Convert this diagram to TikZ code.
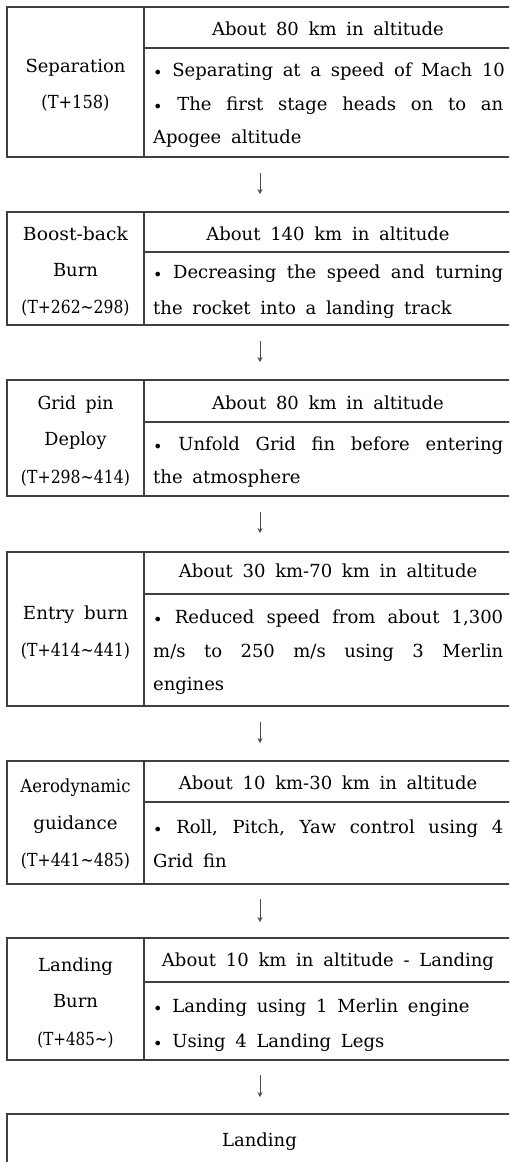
\documentclass[tikz,border=0pt]{standalone}
\usepackage{fontspec}
\usepackage{graphicx}
\setmainfont{DejaVu Serif}[WordSpace=1.7]
\usetikzlibrary{arrows.meta}
\tikzset{
  cell/.style={draw=black!75, line width=1.6pt, inner sep=0pt, outer sep=0pt, anchor=north west},
  txt/.style={inner sep=0pt, font=\fontsize{18}{18}\selectfont, text=black},
  ln/.style={txt, anchor=base west},
  hd/.style={txt, anchor=base},
  lc/.style={txt, anchor=base},
  flow/.style={draw=black!70, line width=0.9pt, -{Stealth[length=5pt,width=5pt]}}
}
\newcommand\bul{\raisebox{-0.12em}{\fontsize{16}{16}\selectfont\textbullet}}
\newcommand\jl[1]{\makebox[350pt][s]{#1}}
\newcommand\fw[2]{\resizebox{#1pt}{\height}{#2}}
\begin{document}
\begin{tikzpicture}[x=1pt,y=-1pt]
\useasboundingbox (0,0) rectangle (509,1162);
\clip (0,0) rectangle (509,1162);
% Box 1
\node[cell, minimum width=137pt, minimum height=150pt] (b1l) at (7,7) {};
\node[cell, minimum width=380pt, minimum height=41pt] (b1h) at (144,7) {};
\node[cell, minimum width=380pt, minimum height=109pt] (b1b) at (144,48) {};
\node[lc] (t1l1) at (75.5,72) {\fw{100}{Separation}};
\node[lc] (t1l2) at (75.5,108) {\fw{68}{(T+158)}};
\node[hd] (t1h) at (328,35) {About 80 km in altitude};
\node[ln] (t1b1) at (153,76) {\bul{} Separating at a speed of Mach 10};
\node[ln] (t1b2) at (153,110) {\jl{\bul{} The first stage heads on to an}};
\node[ln] (t1b3) at (153,143) {Apogee altitude};
% Box 2
\node[cell, minimum width=137pt, minimum height=113pt] (b2l) at (7,212) {};
\node[cell, minimum width=380pt, minimum height=40pt] (b2h) at (144,212) {};
\node[cell, minimum width=380pt, minimum height=73pt] (b2b) at (144,252) {};
\node[lc] (t2l1) at (75.5,240) {\fw{105}{Boost-back}};
\node[lc] (t2l2) at (75.5,276) {\fw{45}{Burn}};
\node[lc] (t2l3) at (75.5,313) {\fw{108}{(T+262\textasciitilde 298)}};
\node[hd] (t2h) at (328,240) {About 140 km in altitude};
\node[ln] (t2b1) at (153,278) {\jl{\bul{} Decreasing the speed and turning}};
\node[ln] (t2b2) at (153,314) {the rocket into a landing track};
% Box 3
\node[cell, minimum width=137pt, minimum height=116pt] (b3l) at (7,380) {};
\node[cell, minimum width=380pt, minimum height=42pt] (b3h) at (144,380) {};
\node[cell, minimum width=380pt, minimum height=74pt] (b3b) at (144,422) {};
\node[lc] (t3l1) at (75.5,409) {\fw{76}{Grid pin}};
\node[lc] (t3l2) at (75.5,445) {\fw{62}{Deploy}};
\node[lc] (t3l3) at (75.5,483) {\fw{109}{(T+298\textasciitilde 414)}};
\node[hd] (t3h) at (328,409) {About 80 km in altitude};
\node[ln] (t3b1) at (153,450) {\jl{\bul{} Unfold Grid fin before entering}};
\node[ln] (t3b2) at (153,483) {the atmosphere};
% Box 4
\node[cell, minimum width=137pt, minimum height=154pt] (b4l) at (7,552) {};
\node[cell, minimum width=380pt, minimum height=42pt] (b4h) at (144,552) {};
\node[cell, minimum width=380pt, minimum height=112pt] (b4b) at (144,594) {};
\node[lc] (t4l1) at (75.5,619) {\fw{105}{Entry burn}};
\node[lc] (t4l2) at (75.5,656) {\fw{109}{(T+414\textasciitilde 441)}};
\node[hd] (t4h) at (328,577) {About 30 km-70 km in altitude};
\node[ln] (t4b1) at (153,623) {\jl{\bul{} Reduced speed from about 1,300}};
\node[ln] (t4b2) at (153,657) {\jl{m/s to 250 m/s using 3 Merlin}};
\node[ln] (t4b3) at (153,690) {engines};
% Box 5
\node[cell, minimum width=137pt, minimum height=123pt] (b5l) at (7,761) {};
\node[cell, minimum width=380pt, minimum height=41pt] (b5h) at (144,761) {};
\node[cell, minimum width=380pt, minimum height=82pt] (b5b) at (144,802) {};
\node[lc] (t5l1) at (75.5,792) {\fw{110}{Aerodynamic}};
\node[lc] (t5l2) at (75.5,829) {\fw{84}{guidance}};
\node[lc] (t5l3) at (75.5,866) {\fw{109}{(T+441\textasciitilde 485)}};
\node[hd] (t5h) at (328,789) {About 10 km-30 km in altitude};
\node[ln] (t5b1) at (153,833) {\jl{\bul{} Roll, Pitch, Yaw control using 4}};
\node[ln] (t5b2) at (153,867) {Grid fin};
% Box 6
\node[cell, minimum width=137pt, minimum height=122pt] (b6l) at (7,938) {};
\node[cell, minimum width=380pt, minimum height=44pt] (b6h) at (144,938) {};
\node[cell, minimum width=380pt, minimum height=78pt] (b6b) at (144,982) {};
\node[lc] (t6l1) at (75.5,971) {\fw{75}{Landing}};
\node[lc] (t6l2) at (75.5,1007) {\fw{45}{Burn}};
\node[lc] (t6l3) at (75.5,1045) {\fw{76}{(T+485\textasciitilde)}};
\node[hd] (t6h) at (328,966) {About 10 km in altitude - Landing};
\node[ln] (t6b1) at (153,1012) {\bul{} Landing using 1 Merlin engine};
\node[ln] (t6b2) at (153,1047) {\bul{} Using 4 Landing Legs};
% Box 7
\node[cell, minimum width=517pt, minimum height=48.5pt] (b7) at (7,1114) {};
\node[hd] (t7) at (259.5,1146) {Landing};
% arrows
\coordinate (a1s) at (260,173); \coordinate (a1e) at (260,194);
\coordinate (a2s) at (260,341); \coordinate (a2e) at (260,362);
\coordinate (a3s) at (260,512); \coordinate (a3e) at (260,533);
\coordinate (a4s) at (260,722); \coordinate (a4e) at (260,743);
\coordinate (a5s) at (260,899); \coordinate (a5e) at (260,922);
\coordinate (a6s) at (260,1075); \coordinate (a6e) at (260,1097);
\draw[flow] (a1s) -- (a1e);
\draw[flow] (a2s) -- (a2e);
\draw[flow] (a3s) -- (a3e);
\draw[flow] (a4s) -- (a4e);
\draw[flow] (a5s) -- (a5e);
\draw[flow] (a6s) -- (a6e);
\end{tikzpicture}
\end{document}
